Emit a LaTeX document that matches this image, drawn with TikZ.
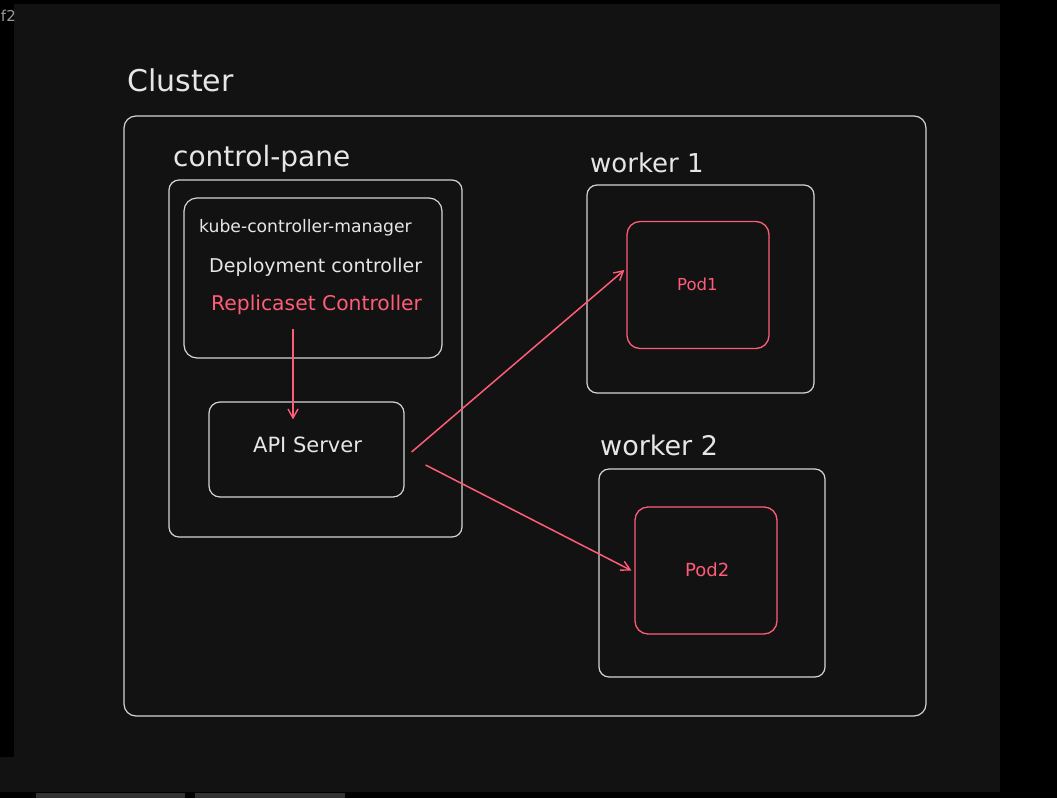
\documentclass[tikz,border=0pt]{standalone}
\usepackage{fontspec}
\setmainfont{DejaVu Sans}
\usetikzlibrary{calc,arrows.meta}
\definecolor{canvas}{HTML}{121212}
\definecolor{edge}{HTML}{D4D4D4}
\definecolor{ink}{HTML}{E6E6E6}
\definecolor{hot}{HTML}{FF5C78}
\definecolor{bar}{HTML}{333333}
\tikzset{
  box/.style={draw=edge, line width=1.2pt, rounded corners=#1, inner sep=0pt},
  box/.default=11pt,
  podbox/.style={draw=hot, line width=1.3pt, rounded corners=13pt, inner sep=0pt,
    minimum width=142pt, minimum height=127pt},
  lbl/.style={text=ink, inner sep=0pt, anchor=base west},
  flow/.style={draw=hot, line width=1.5pt, -{Straight Barb[length=9pt,width=10pt,line width=1.4pt]}},
}
\begin{document}
\begin{tikzpicture}[x=1pt,y=-1pt]
  % page and canvas
  \fill[black] (0,0) rectangle (1057,798);
  \useasboundingbox (0,0) rectangle (1057,798);
  \fill[canvas] (14,4) rectangle (1000,792);
  \fill[canvas] (0,757) rectangle (14,792);
  \fill[bar] (36,793) rectangle (185,798);
  \fill[bar] (195,793) rectangle (345,798);
  \node[text=gray!80, font=\fontsize{15}{15}\selectfont, inner sep=0pt, anchor=base east] (tab) at (16,21) {f2};

  % containers
  \node[box=12pt, minimum width=802pt, minimum height=600pt] (cluster) at (525,416) {};
  \node[box=10pt, minimum width=293pt, minimum height=357pt] (cp) at (315.5,358.5) {};
  \node[box=13pt, minimum width=258pt, minimum height=160pt] (kcm) at (313,278) {};
  \node[box=11pt, minimum width=195pt, minimum height=95pt] (api) at (306.5,449.5) {};
  \node[box=10pt, minimum width=227pt, minimum height=208pt] (w1) at (700.5,289) {};
  \node[box=10pt, minimum width=226pt, minimum height=208pt] (w2) at (712,573) {};
  \node[podbox] (pod1) at (698,285) {};
  \node[podbox] (pod2) at (706,570.5) {};

  % labels
  \node[lbl, font=\fontsize{30}{30}\selectfont] (tcluster) at (127,91) {Cluster};
  \node[lbl, font=\fontsize{28}{28}\selectfont] (tcp) at (173,166) {control-pane};
  \node[lbl, font=\fontsize{17.2}{17.2}\selectfont] (tkcm) at (199,232) {kube-controller-manager};
  \node[lbl, font=\fontsize{19}{19}\selectfont] (tdep) at (209,272) {Deployment controller};
  \node[lbl, font=\fontsize{20.3}{20.3}\selectfont, text=hot] (trs) at (211,310) {Replicaset Controller};
  \node[lbl, font=\fontsize{21}{21}\selectfont] (tapi) at (253,452) {API Server};
  \node[lbl, font=\fontsize{26}{26}\selectfont] (tw1) at (590,172) {worker 1};
  \node[lbl, font=\fontsize{27}{27}\selectfont] (tw2) at (600,455) {worker 2};
  \node[lbl, font=\fontsize{16.5}{16.5}\selectfont, text=hot] (tpod1) at (677,290) {Pod1};
  \node[lbl, font=\fontsize{18}{18}\selectfont, text=hot] (tpod2) at (685,576) {Pod2};

  % connector ends
  \coordinate (rsOut) at ($(kcm.south)+(-20,-30)$);
  \coordinate (apiIn) at ($(api.north)+(-13.5,18)$);
  \coordinate (apiOut1) at ($(api.east)+(7,2.5)$);
  \coordinate (apiOut2) at ($(api.east)+(21,15.5)$);
  \coordinate (pod1In) at ($(pod1.west)+(-2,-15)$);
  \coordinate (pod2In) at ($(pod2.west)+(-3,0)$);

  % connectors
  \draw[flow, line width=2pt] (rsOut) -- (apiIn);
  \draw[flow] (apiOut1) -- (pod1In);
  \draw[flow] (apiOut2) -- (pod2In);
\end{tikzpicture}
\end{document}
